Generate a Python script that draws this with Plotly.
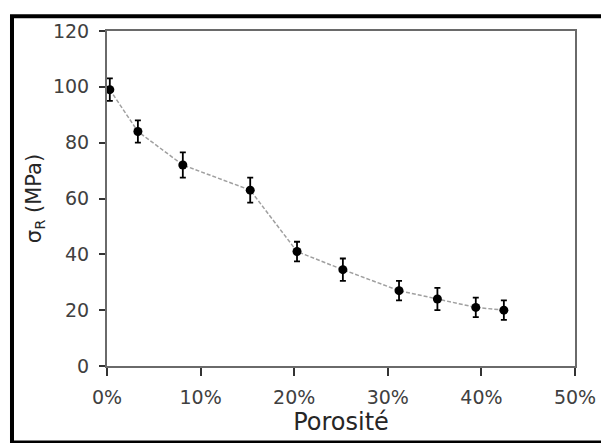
import plotly.graph_objects as go

# porosity (fraction) vs rupture strength sigma_R (MPa)
porosite = [0.003, 0.033, 0.081, 0.153, 0.203, 0.252, 0.312, 0.353, 0.394, 0.424]
sigma_r = [99, 84, 72, 63, 41, 34.5, 27, 24, 21, 20]
erreur = [4, 4, 4.5, 4.5, 3.5, 4, 3.5, 4, 3.5, 3.5]

x_ticks = [0, 0.1, 0.2, 0.3, 0.4, 0.5]
y_ticks = [0, 20, 40, 60, 80, 100, 120]

fig = go.Figure()
fig.add_trace(go.Scatter(
    x=porosite, y=sigma_r, mode="lines+markers",
    line=dict(color="#a0a0a0", width=1.5, dash="4px,2px"),
    marker=dict(color="black", size=9),
    error_y=dict(type="data", array=erreur, color="black", thickness=1.8, width=3),
    showlegend=False,
))

axis_common = dict(
    showgrid=False, zeroline=False, showline=True, mirror=True,
    linecolor="#6a6a6a", linewidth=2,
    ticks="outside", tickcolor="#333333", tickwidth=1.5,
    tickfont=dict(size=19, color="#404040"),
)

fig.update_xaxes(
    range=[0, 0.5], tickvals=x_ticks, tickformat=".0%", ticklen=8,
    ticklabelstandoff=5,
    title=dict(text="Porosité", font=dict(size=24, color="#262626"), standoff=2),
    **axis_common,
)
fig.update_yaxes(
    range=[0, 120], tickvals=y_ticks, ticklen=6, ticklabelstandoff=6,
    title=dict(text="σ<sub>R</sub> (MPa)", font=dict(size=21, color="#262626"), standoff=6),
    **axis_common,
)

# outer black frame around the whole figure
fig.add_shape(type="rect", xref="paper", yref="paper",
              x0=-0.203, x1=1.09, y0=-0.228, y1=1.044,
              line=dict(color="black", width=4), layer="below")

# page body adds an 8px offset, so the figure is a bit smaller than the window
fig.update_layout(
    width=601, height=435,
    margin=dict(l=99, r=34, t=17, b=77),
    plot_bgcolor="white", paper_bgcolor="white",
    font=dict(family="DejaVu Sans"),
)

fig.write_html("out.html")
